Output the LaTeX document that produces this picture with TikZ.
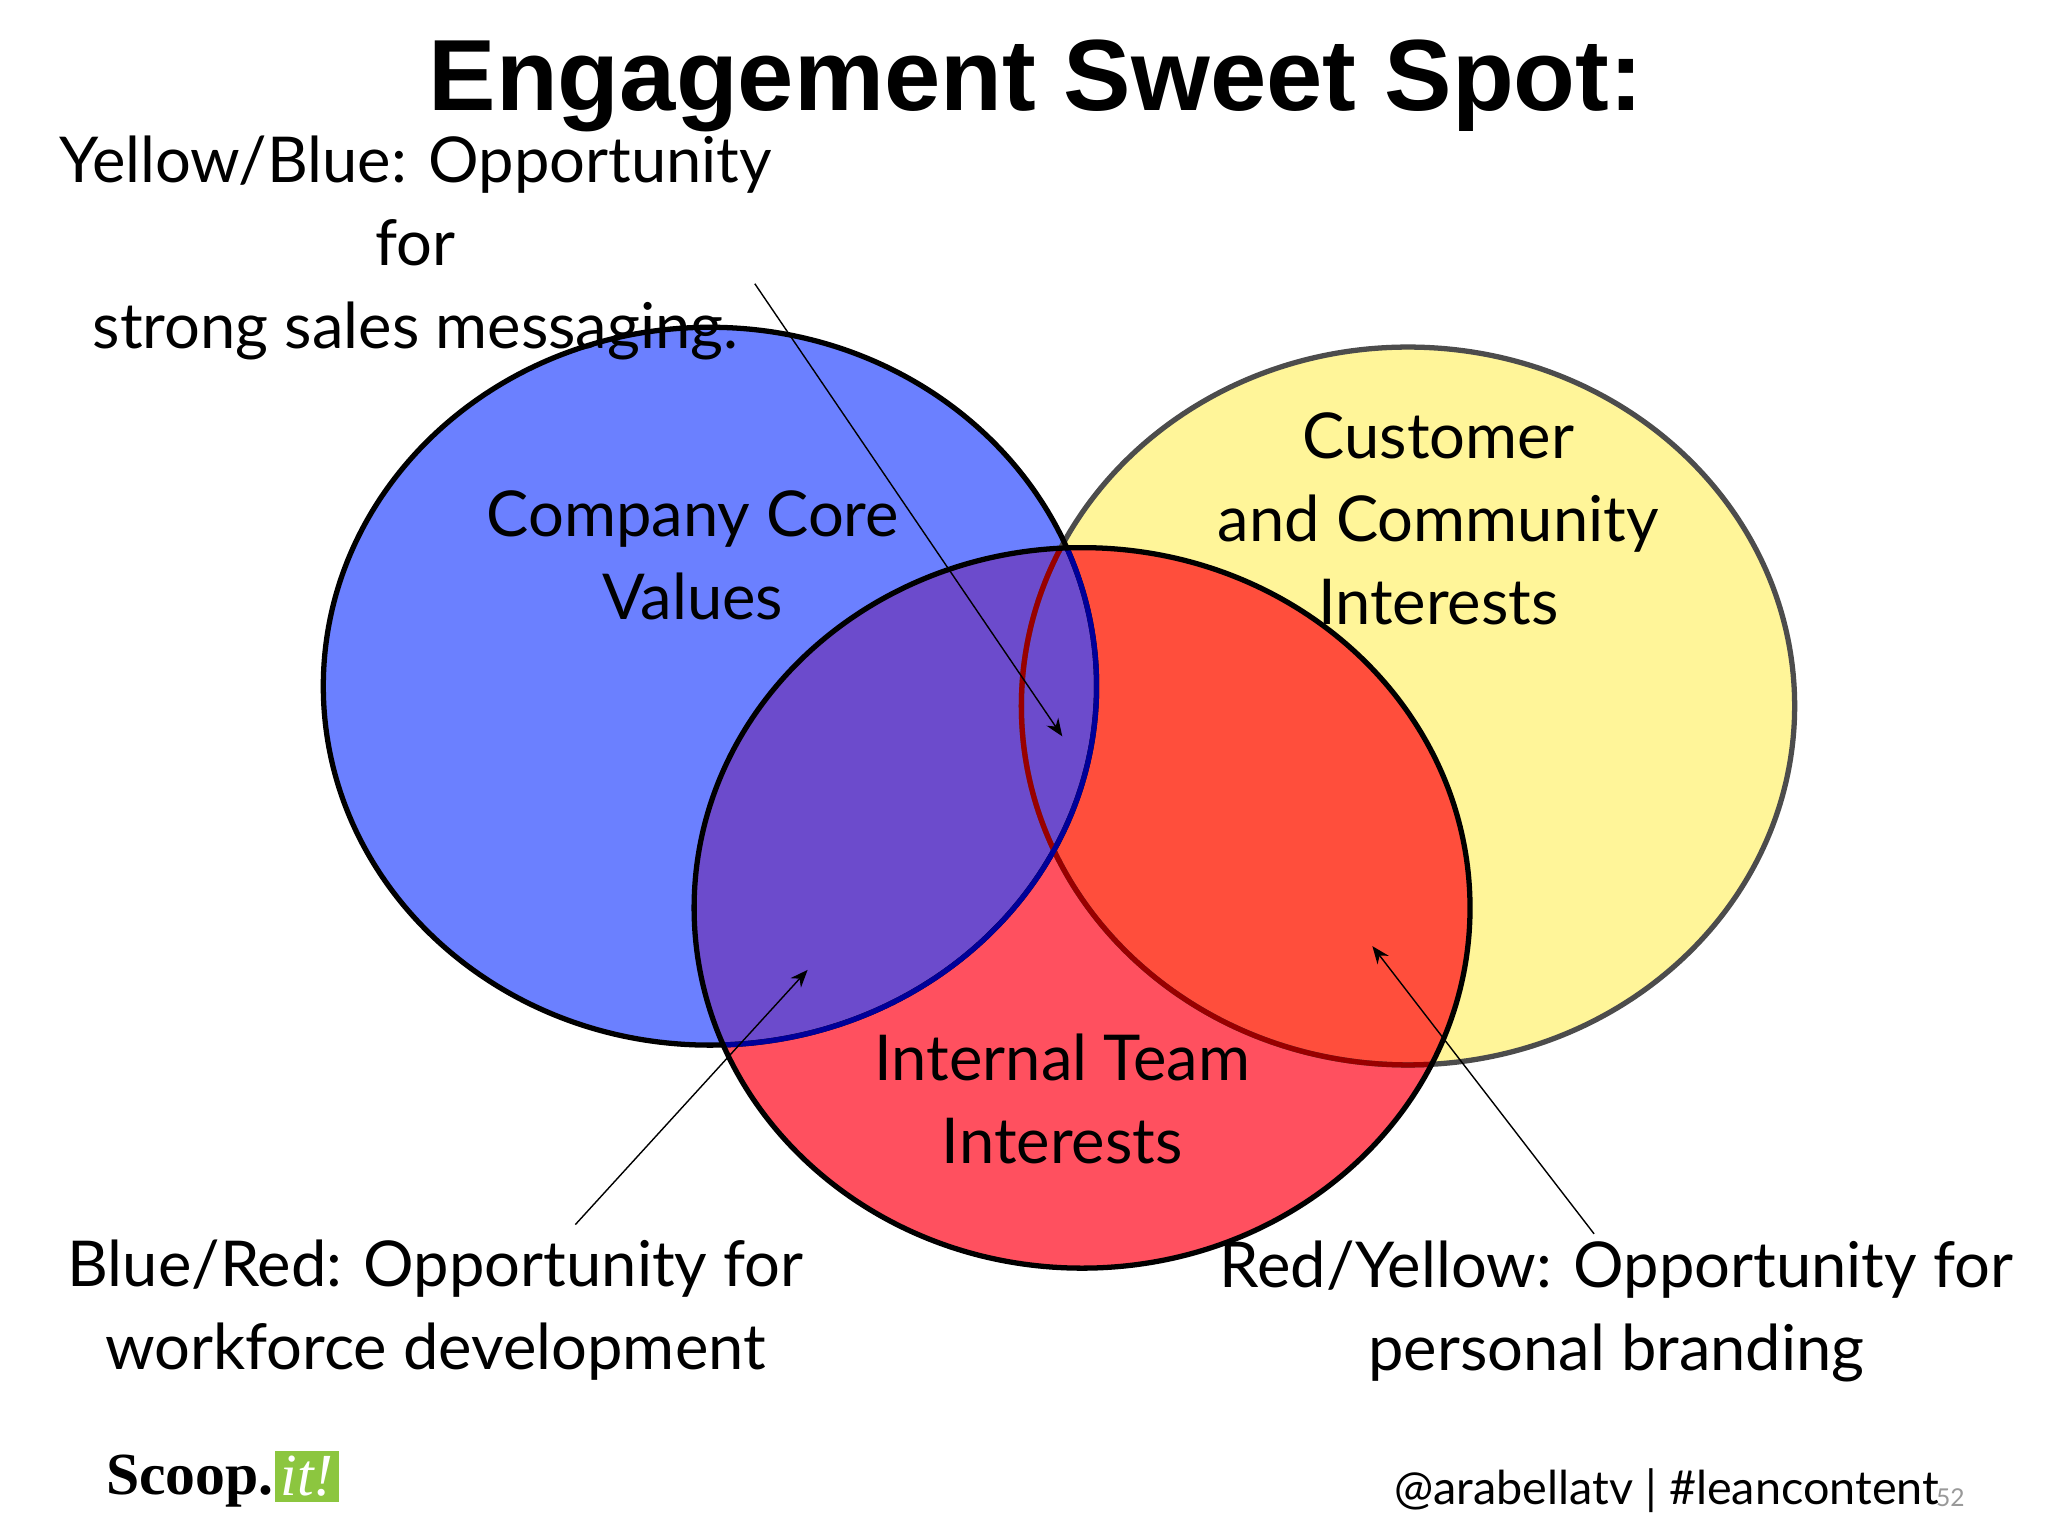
\documentclass[tikz,border=0pt]{standalone}
\usetikzlibrary{arrows.meta}
\usepackage{fontspec}
\setmainfont{Lato}
\newfontfamily\titlefont{Liberation Sans}
\newfontfamily\logofont{Liberation Serif}
\definecolor{cblue}{RGB}{107,128,255}
\definecolor{cyellow}{RGB}{255,245,153}
\definecolor{cred}{RGB}{255,80,95}
\definecolor{cpurple}{RGB}{108,75,204}
\definecolor{corange}{RGB}{255,78,60}
\definecolor{cgreen}{RGB}{140,198,63}
\begin{document}
\begin{tikzpicture}[x=0.013196cm,y=-0.013196cm,
  lbl/.style={font=\fontsize{18}{23.6}\selectfont,align=center,inner sep=0pt},
  arr/.style={-{Stealth[length=5pt,width=4pt]},thin}]
\useasboundingbox[fill=white] (0,0) rectangle (1552,1164);
\def\Blue{(538,520) ellipse [x radius=293,y radius=272]}
\def\Yel{(1067,535) ellipse [x radius=293,y radius=272]}
\def\Red{(820,688) ellipse [x radius=294,y radius=273]}
\fill[cyellow] \Yel;
\fill[cblue] \Blue;
\fill[cred] \Red;
\begin{scope}
  \clip \Red;
  \fill[corange] \Yel;
  \fill[cpurple] \Blue;
\end{scope}
\draw[line width=1.5pt,black!70] \Yel;
\draw[line width=1.5pt,black] \Blue;
\begin{scope}
  \clip \Red;
  \draw[line width=1.5pt,red!60!black] \Yel;
  \draw[line width=1.5pt,blue!60!black] \Blue;
\end{scope}
\draw[line width=1.5pt,black] \Red;

\node[font=\titlefont\bfseries\fontsize{28.8}{34}\selectfont] (title) at (785,65) {Engagement Sweet Spot:};
\node[lbl] (yb) at (315,188) {Yellow/Blue: Opportunity\\for\\strong sales messaging.};
\node[lbl] (ccv) at (525,421) {Company Core\\Values};
\node[lbl] (cci) at (1090,393) {Customer\\and Community\\Interests};
\node[lbl] (iti) at (805,833) {Internal Team\\Interests};
\node[lbl] (br) at (330,993) {Blue/Red: Opportunity for\\workforce development};
\node[lbl] (ry) at (1225,994) {Red/Yellow: Opportunity for\\personal branding};

\coordinate (a1s) at (572,215); \coordinate (a1e) at (805,558);
\coordinate (a2s) at (436,928); \coordinate (a2e) at (612,735);
\coordinate (a3s) at (1208,935); \coordinate (a3e) at (1040,717);
\draw[arr] (a1s) -- (a1e);
\draw[arr] (a2s) -- (a2e);
\draw[arr] (a3s) -- (a3e);

\node[font=\fontsize{13.3}{15}\selectfont,anchor=east,inner sep=0pt] (handle) at (1470,1130) {@arabellatv | \#leancontent};
\node[font=\fontsize{7}{8}\selectfont,text=black!40,inner sep=0pt] (pg) at (1478,1135) {52};
\node[font=\logofont\bfseries\fontsize{17}{19}\selectfont,anchor=east,inner sep=0pt] (scoop) at (208,1122) {Scoop.};
\node[fill=cgreen,text=white,font=\logofont\itshape\fontsize{17}{19}\selectfont,anchor=west,inner sep=1.5pt] (it) at (208,1119) {it!};
\end{tikzpicture}
\end{document}
